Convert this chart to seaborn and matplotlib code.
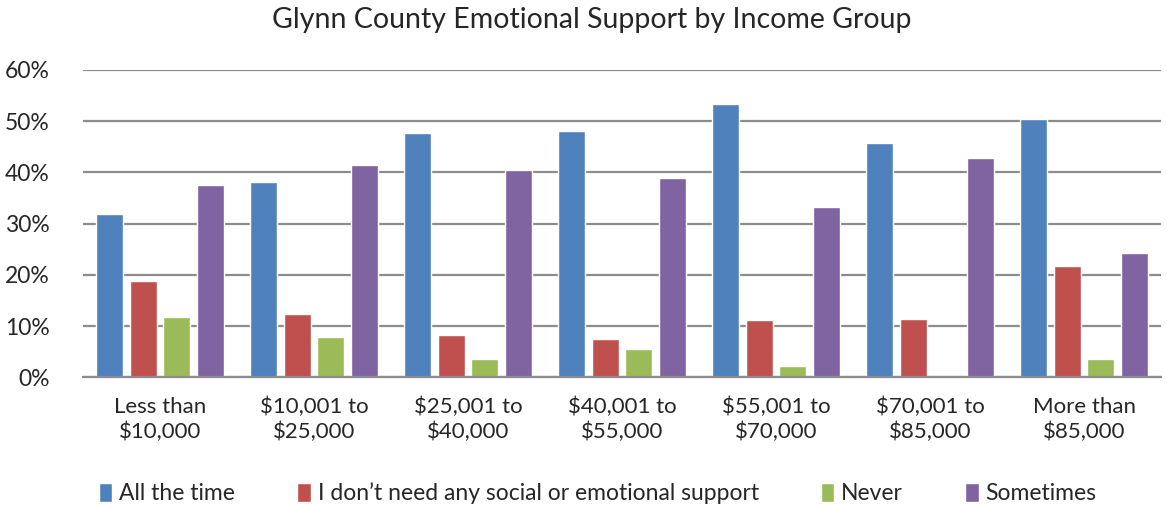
import pandas as pd
import seaborn as sns
import matplotlib.pyplot as plt
from matplotlib.patches import Patch
from matplotlib.ticker import PercentFormatter

income = ['Less than\n$10,000', '$10,001 to\n$25,000', '$25,001 to\n$40,000',
          '$40,001 to\n$55,000', '$55,001 to\n$70,000', '$70,001 to\n$85,000',
          'More than\n$85,000']
series = ['All the time', 'I don\u2019t need any social or emotional support',
          'Never', 'Sometimes']
all_the_time = [31.8, 38.1, 47.6, 48.1, 53.4, 45.8, 50.5]
dont_need = [18.8, 12.3, 8.3, 7.4, 11.1, 11.4, 21.8]
never = [11.7, 7.8, 3.5, 5.5, 2.2, 0.0, 3.5]
sometimes = [37.6, 41.5, 40.5, 38.9, 33.3, 42.9, 24.2]
colors = ['#4F81BD', '#C0504D', '#9BBB59', '#8064A2']

rows = []
for s, vals in zip(series, [all_the_time, dont_need, never, sometimes]):
    for g, v in zip(income, vals):
        rows.append({'income': g, 'support': s, 'pct': v})
df = pd.DataFrame(rows)

sns.set_style('white')
plt.rcParams['font.family'] = ['Lato', 'DejaVu Sans']

fig, ax = plt.subplots(figsize=(11.67, 5.07), dpi=100)
fig.subplots_adjust(left=0.071, right=0.995, top=0.862, bottom=0.256)

sns.barplot(data=df, x='income', y='pct', hue='support', palette=colors,
            width=0.87, gap=0.2, order=income, hue_order=series,
            saturation=1, legend=False, ax=ax)

ax.set_ylim(0, 60)
ax.set_yticks(range(0, 61, 10))
ax.yaxis.set_major_formatter(PercentFormatter(decimals=0))
ax.yaxis.grid(True, color='#8c8c8c', linewidth=1.6)
ax.set_axisbelow(True)
ax.set_xlim(-0.5, len(income) - 0.5)
for sp in ['top', 'right', 'left']:
    ax.spines[sp].set_visible(False)
ax.spines['bottom'].set_color('#8c8c8c')
ax.spines['bottom'].set_linewidth(1.6)
ax.set_xticks(range(len(income)))
ax.set_xticklabels([t.replace('$', r'\$') for t in income], fontsize=16,
                   linespacing=1.3)
ax.tick_params(axis='y', labelsize=16.5, length=0, pad=24)
ax.tick_params(axis='x', length=0, pad=14)
ax.set_xlabel('')
ax.set_ylabel('')
ax.set_title('Glynn County Emotional Support by Income Group', fontsize=20.5,
             pad=30, x=0.472)

handles = [Patch(facecolor=c, label=s) for c, s in zip(colors, series)]
fig.legend(handles=handles, loc='lower center', ncol=4, frameon=False,
           fontsize=16.5, bbox_to_anchor=(0.512, -0.035), handlelength=0.6,
           handleheight=0.9, handletextpad=0.3, columnspacing=2.7)

fig.savefig('out.png', dpi=100)
